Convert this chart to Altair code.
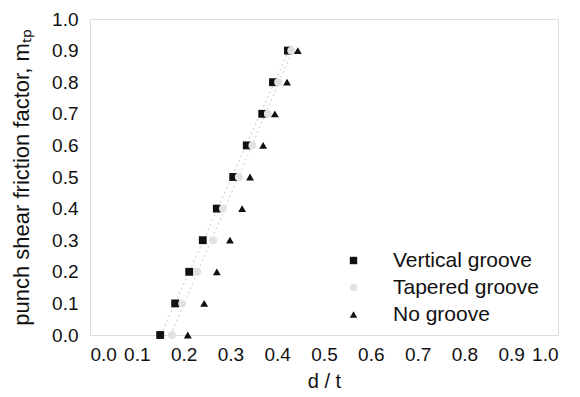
import altair as alt
import pandas as pd

# values
levels = [0.0, 0.1, 0.2, 0.3, 0.4, 0.5, 0.6, 0.7, 0.8, 0.9]
vertical = [0.150, 0.182, 0.212, 0.241, 0.271, 0.306, 0.335, 0.368, 0.391, 0.423]
tapered = [0.175, 0.197, 0.229, 0.263, 0.284, 0.318, 0.347, 0.380, 0.402, 0.430]
nogroove = [0.209, 0.244, 0.271, 0.299, 0.325, 0.342, 0.370, 0.395, 0.421, 0.444]
series = ["Vertical groove", "Tapered groove", "No groove"]
ticks = [0.0, 0.1, 0.2, 0.3, 0.4, 0.5, 0.6, 0.7, 0.8, 0.9, 1.0]

rows = []
for name, xs in zip(series, [vertical, tapered, nogroove]):
    for xv, yv in zip(xs, levels):
        rows.append({"series": name, "d": xv, "m": yv})
df = pd.DataFrame(rows)

FONT = "Liberation Sans"

xenc = alt.X("d:Q", scale=alt.Scale(domain=[0, 1], nice=False),
             axis=alt.Axis(values=ticks, format=".1f", title="d / t", grid=False,
                           ticks=False, domainColor="#d8d8d8", domainDash=[1, 3],
                           labelFontSize=19, labelPadding=10, labelColor="#111",
                           labelOverlap=False,
                           titleFontSize=20, titleFontWeight="normal", titlePadding=7,
                           titleColor="#111", labelFont=FONT, titleFont=FONT))
yenc = alt.Y("m:Q", scale=alt.Scale(domain=[0, 1], nice=False),
             axis=alt.Axis(values=ticks, format=".1f",
                           title="punch shear friction factor, m\u209c\u209a", grid=False,
                           ticks=False, domainColor="#d8d8d8", domainDash=[1, 3],
                           labelFontSize=19, labelPadding=12, labelColor="#111",
                           labelOverlap=False,
                           titleFontSize=22, titleFontWeight="normal", titlePadding=18,
                           titleColor="#111", labelFont=FONT, titleFont=FONT))

leg = alt.Legend(title=None, orient="none", legendX=253, legendY=231,
                 labelFontSize=21, labelFont=FONT, labelColor="#111",
                 symbolSize=55, labelOffset=29, rowPadding=5,
                 symbolStrokeWidth=0)

points = alt.Chart(df).mark_point(filled=True, size=62, opacity=1).encode(
    x=xenc, y=yenc,
    shape=alt.Shape("series:N",
                    scale=alt.Scale(domain=series, range=["square", "circle", "triangle-up"]),
                    legend=leg),
    color=alt.Color("series:N",
                    scale=alt.Scale(domain=series, range=["#111111", "#e2e2e2", "#111111"]),
                    legend=leg),
)

fits = alt.Chart(df).transform_filter(
    alt.FieldOneOfPredicate(field="series", oneOf=["Vertical groove", "Tapered groove"])
).transform_regression("m", "d", groupby=["series"]).mark_line(
    color="#c8c8c8", strokeWidth=1, strokeDash=[2, 3]
).encode(x=xenc, y=yenc, detail="series:N")

chart = alt.layer(fits, points).properties(
    width=468, height=316,
    autosize=alt.AutoSizeParams(type="none"),
    padding={"left": 90, "top": 19, "right": 22, "bottom": 62},
).configure_view(stroke="#eeeeee", strokeDash=[1, 4]).configure(background="white")

chart.save("out.html", embed_options={"renderer": "svg", "actions": False})
